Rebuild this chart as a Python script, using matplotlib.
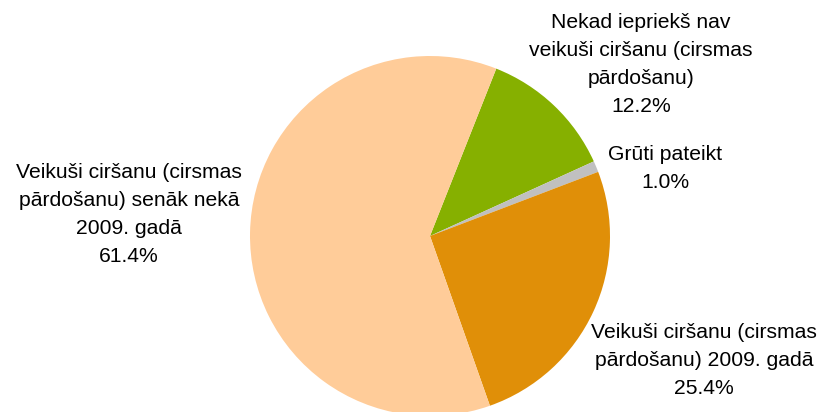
import numpy as np
import matplotlib
matplotlib.use('Agg')
import matplotlib.pyplot as plt

plt.rcParams['font.family'] = ['Liberation Sans', 'DejaVu Sans']

# ── data ────────────────────────────────────────────────────────────────────
categories = ['Nekad iepriekš nav\nveikuši ciršanu (cirsmas\npārdošanu)',
              'Grūti pateikt',
              'Veikuši ciršanu (cirsmas\npārdošanu) 2009. gadā',
              'Veikuši ciršanu (cirsmas\npārdošanu) senāk nekā\n2009. gadā']
shares = [12.2, 1.0, 25.4, 61.4]
colors = ['#86B000', '#C0C0C0', '#E08F08', '#FFCC99']

# label centres in pixels (x, y from top) -> converted to data coords below
label_px = [(641, 64), (665, 169), (704, 361), (129, 214)]

W, H = 823, 412
cx, cy, r = 430, 236, 180

fig = plt.figure(figsize=(W / 100, H / 100), dpi=100)
ax = fig.add_axes([(cx - r) / W, (H - cy - r) / H, 2 * r / W, 2 * r / H])

start = 90 - 21.6
ax.pie(shares, colors=colors, startangle=start, counterclock=False,
       radius=1.0, wedgeprops=dict(linewidth=0))
ax.set_xlim(-1, 1)
ax.set_ylim(-1, 1)
ax.set_aspect('equal')
ax.axis('off')

for name, val, (px, py) in zip(categories, shares, label_px):
    x = (px - cx) / r
    y = (cy - py) / r
    ax.text(x, y, f'{name}\n{val:.1f}%', ha='center', va='center',
            fontsize=15.2, linespacing=1.6, color='#000000', clip_on=False)

fig.savefig('out.png', dpi=100)
